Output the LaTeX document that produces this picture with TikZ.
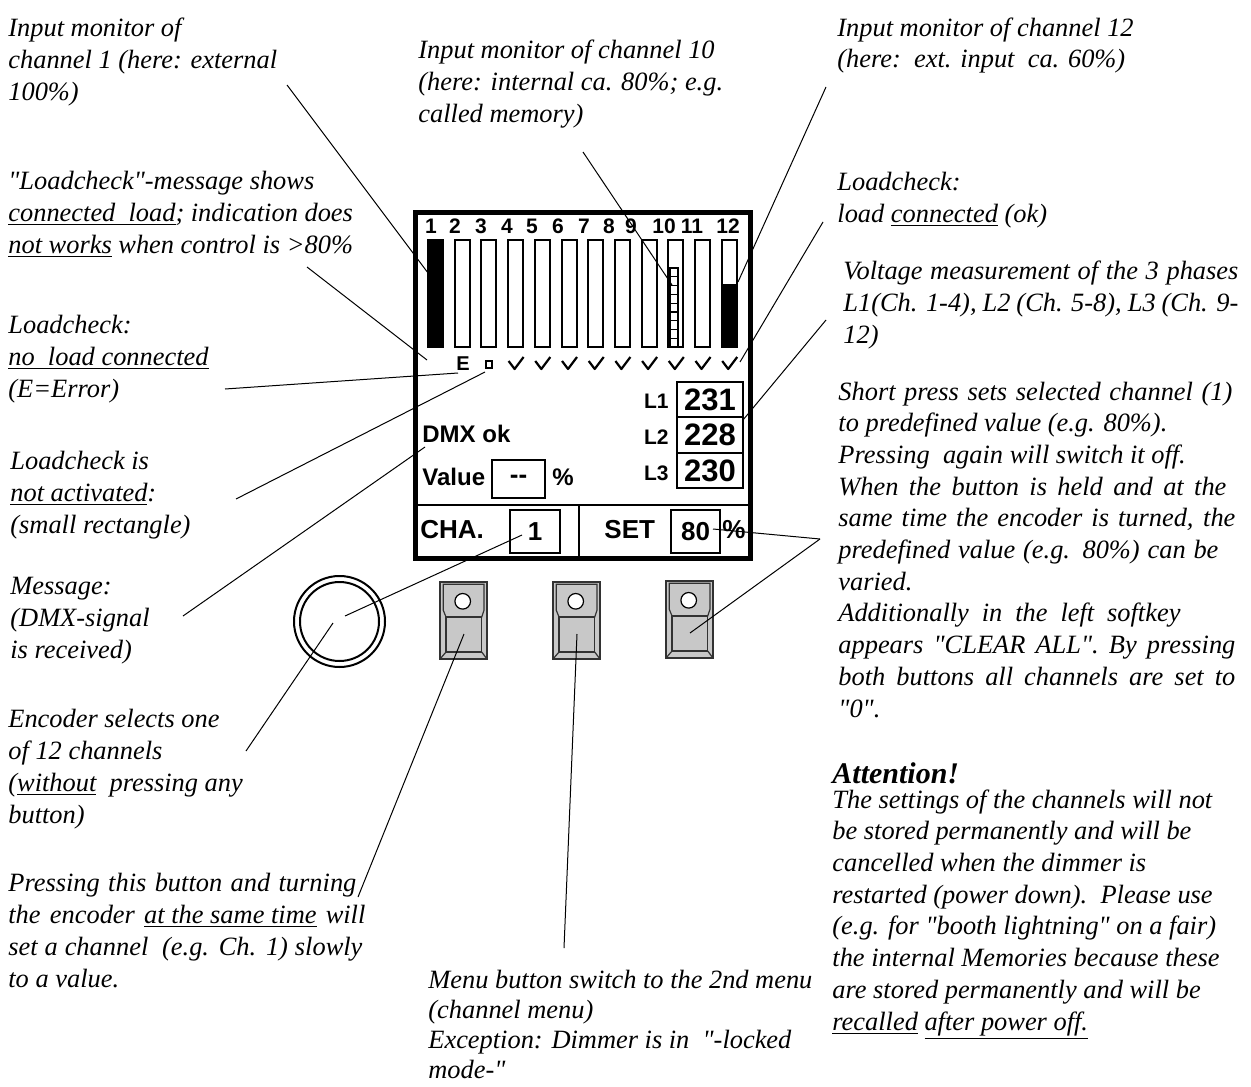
\documentclass[tikz,border=0pt]{standalone}
\usepackage{fontspec}
\setmainfont{Liberation Serif}
\setsansfont{Liberation Sans}
\usetikzlibrary{positioning}

\definecolor{keygray}{RGB}{200, 200, 200}
\definecolor{keyedge}{RGB}{50, 50, 50}
\newcommand{\jline}[2]{\makebox[#1][s]{#2}}
\newcommand{\qq}{\textquotedbl}
\newcommand{\notefont}{\fontsize{13.2}{15.85}\selectfont\itshape}

\tikzset{
  pics/keycap/.style={code={
    \draw[fill=keygray, draw=keyedge, line width=0.8pt] (0,0) rectangle (47,77);
    \draw[keyedge, line width=0.6pt]
      (3.3,2.3) -- (3.3,28.3) -- (6,35) -- (41.7,35) -- (44,28.3) -- (44,2.3) -- cycle;
    \draw[keyedge, line width=0.6pt] (6,35) rectangle (41.7,70);
    \draw[keyedge, line width=0.6pt] (6,70) -- (0,77) (41.7,70) -- (47,77);
    \draw[fill=white, line width=0.6pt] (22.7,19.3) circle[radius=3.9pt];
    \coordinate (-mid) at (24,52);
  }}
}

\begin{document}
\begin{tikzpicture}[
  x=0.5pt, y=-0.5pt,
  note/.style={anchor=base west, inner sep=0pt, align=left, font=\notefont},
  lcd/.style={inner sep=0pt, font=\sffamily\bfseries\fontsize{#1}{#1}\selectfont},
  vbox/.style={draw, line width=0.8pt, lcd=15.5, minimum width=33pt,
               minimum height=17.5pt},
  kbox/.style={draw, line width=0.9pt, lcd=13, minimum width=25pt,
               minimum height=21.5pt},
  leader/.style={line width=0.5pt},
  chbar/.style={line width=1pt},
  tick/.style={line width=1.1pt, line join=round}
]
\useasboundingbox (0,0) rectangle (1251,1086);

% ── Display ──────────────────────────────────────────────────────────────
\draw[line width=2.5pt] (415,212) rectangle (750,558);
\draw[line width=0.9pt] (415,505) -- (750,505);
\draw[line width=0.9pt] (579,505) -- (579,558);

\foreach \n/\x in {1/431,2/455,3/481,4/507,5/532,6/558,
                   7/584,8/609,9/631,10/664,11/692,12/728}
  \node[lcd=10.5, anchor=base] (num\n) at (\x,233) {\n};

\foreach \i [evaluate=\i as \xc using 435.5+(\i-1)*26.7] in {1,...,12}
  \draw[chbar] ({\xc-7.5},240) rectangle ({\xc+7.5},347);
\fill (428,240) rectangle (443,347);
\fill (721.7,284) rectangle (736.7,347);
\foreach \k in {0,...,8}
  \draw[line width=0.6pt] (670,{268+\k*8.78}) rectangle (678,{268+(\k+1)*8.78});

% load check row
\node[lcd=10, anchor=base] (err) at (463,370) {E};
\draw[line width=1pt] (486,361) rectangle (492,368);
\foreach \i [evaluate=\i as \xc using 435.5+(\i-1)*26.7] in {4,...,12}
  \draw[tick] ({\xc-7},361) -- ({\xc-1},369) -- ({\xc+8},357);

% phase voltages
\node[vbox] (v1) at (710,399.5) {231};
\node[vbox] (v2) at (710,435)   {228};
\node[vbox] (v3) at (710,470.5) {230};
\node[lcd=10.5, anchor=base east] (l1) at (669,408) {L1};
\node[lcd=10.5, anchor=base east] (l2) at (669,444) {L2};
\node[lcd=10.5, anchor=base east] (l3) at (669,480) {L3};

\node[lcd=12, anchor=base west] (dmx) at (422,442) {DMX ok};
\node[lcd=12, anchor=base west] (val) at (422,485) {Value};
\node[kbox, minimum width=26.5pt, minimum height=19pt] (valbox) at (518.5,479) {-{}-};
\node[lcd=12, anchor=base west] (valpct) at (552,485) {\%};

\node[lcd=13, anchor=base west] (cha) at (420,538) {CHA.};
\node[kbox] (chabox) at (535,531.5) {1};
\node[lcd=13, anchor=base west] (set) at (604,538) {SET};
\node[kbox, minimum width=24.5pt] (setbox) at (695.5,531.5) {80};
\node[lcd=13, anchor=base west] (setpct) at (722,538) {\%};

% ── Encoder and keys ─────────────────────────────────────────────────────
\coordinate (enc) at (339.5,621.5);
\draw[line width=1pt] (enc) circle[radius=22.75pt];
\draw[line width=1pt] (enc) circle[radius=19.75pt];
\pic (key1) at (440,582) {keycap};
\pic (key2) at (553,582) {keycap};
\pic (key3) at (666,581) {keycap};

% ── Notes (placed at the baseline of their last line) ────────────────────
\node[note] (chone) at (8,100)
  {Input monitor of\\channel 1 (here: external\\100\%)};
\node[note] (lcmsg) at (8,253)
  {\qq{}Loadcheck\qq{}-message shows\\\underline{connected\ \ load}; indication does\\
   \underline{not works} when control is >80\%};
\node[note] (chten) at (418,122)
  {Input monitor of channel 10\\(here: internal ca. 80\%; e.g.\\called memory)};
\node[note] (chtwelve) at (837,68)
  {Input monitor of channel 12\\(here:\ \ ext. input\ \ ca. 60\%)};
\node[note] (lcok) at (837,222)
  {Loadcheck:\\load \underline{connected} (ok)};
\node[note] (volt) at (843,343)
  {\jline{197.5pt}{Voltage measurement of the 3 phases}\\
   \jline{197.5pt}{L1(Ch. 1-4), L2 (Ch. 5-8), L3 (Ch. 9-}\\12)};
\node[note] (short) at (838,717)
  {\jline{197pt}{Short press sets selected channel (1)}\\
   to predefined value (e.g. 80\%).\\
   Pressing\ \ again will switch it off.\\
   \jline{194pt}{When the button is held and at the}\\
   \jline{198.5pt}{same time the encoder is turned, the}\\
   \jline{190pt}{predefined value (e.g. 80\%) can be}\\
   varied.\\
   \jline{171pt}{Additionally in the left softkey}\\
   \jline{198.5pt}{appears \qq{}CLEAR ALL\qq{}. By pressing}\\
   \jline{198.5pt}{both buttons all channels are set to}\\
   \qq{}0\qq{}.};
\node[note] (lcno) at (8,397)
  {Loadcheck:\\\underline{no\ \ load connected}\\(E=Error)};
\node[note] (lcoff) at (10,533)
  {Loadcheck is\\\underline{not activated}:\\(small rectangle)};
\node[note] (dmxmsg) at (10,658)
  {Message:\\(DMX-signal\\is received)};
\node[note] (encnote) at (8,823)
  {Encoder selects one\\of 12 channels\\(\underline{without}\ \ pressing any\\button)};
\node[note] (slow) at (8,987)
  {\jline{174pt}{Pressing this button and turning}\\
   \jline{178.5pt}{the encoder \underline{at the same time} will}\\
   \jline{177pt}{set a channel\ \ (e.g. Ch. 1) slowly}\\
   to a value.};
\node[note, font=\fontsize{13.2}{15}\selectfont\itshape] (menu) at (428,1078)
  {\jline{192pt}{Menu button switch to the 2nd menu}\\(channel menu)\\
   Exception: Dimmer is in\ \ \qq{}-locked\\mode-\qq{}};
\node[note, font=\fontsize{15}{18}\selectfont\itshape\bfseries] (attn) at (832,783)
  {Attention!};
\node[note] (attntext) at (832,1030)
  {The settings of the channels will not\\
   be stored permanently and will be\\
   cancelled when the dimmer is\\
   restarted (power down).\ \ Please use\\
   (e.g. for \qq{}booth lightning\qq{} on a fair)\\
   the internal Memories because these\\
   are stored permanently and will be\\
   \underline{recalled} \underline{after power off.}};

% ── Leaders ──────────────────────────────────────────────────────────────
\coordinate (a1) at (287,85);   \coordinate (b1) at (428,273);
\coordinate (a2) at (307,267);  \coordinate (b2) at (427,360);
\coordinate (a3) at (225,389);  \coordinate (b3) at (458,373);
\coordinate (a4) at (236,499);  \coordinate (b4) at (485,372);
\coordinate (a5) at (183,616);  \coordinate (b5) at (425,447);
\coordinate (a6) at (246,751);  \coordinate (b6) at (333,623);
\coordinate (a7) at (522,535);  \coordinate (b7) at (345,616);
\coordinate (a8) at (358,897);
\coordinate (a9) at (564,948);
\coordinate (a10) at (820,539); \coordinate (b10) at (713,529);
\coordinate (a11) at (583,152); \coordinate (b11) at (672,285);
\coordinate (a12) at (826,87);  \coordinate (b12) at (738,282);
\coordinate (a13) at (823,222); \coordinate (b13) at (740,362);
\coordinate (a14) at (826,320); \coordinate (b14) at (743,420);

\draw[leader] (a1) -- (b1);
\draw[leader] (a2) -- (b2);
\draw[leader] (a3) -- (b3);
\draw[leader] (a4) -- (b4);
\draw[leader] (a5) -- (b5);
\draw[leader] (a6) -- (b6);
\draw[leader] (a7) -- (b7);
\draw[leader] (a8) -- (key1-mid);
\draw[leader] (a9) -- (key2-mid);
\draw[leader] (a10) -- (b10);
\draw[leader] (a10) -- (key3-mid);
\draw[leader] (a11) -- (b11);
\draw[leader] (a12) -- (b12);
\draw[leader] (a13) -- (b13);
\draw[leader] (a14) -- (b14);

\end{tikzpicture}
\end{document}
